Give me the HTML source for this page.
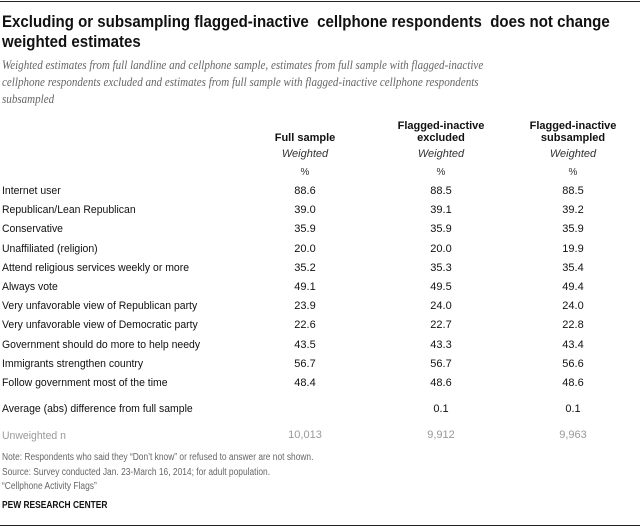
<!DOCTYPE html>
<html><head><meta charset="utf-8">
<style>
body{margin:0;background:#fff;}
#c{position:relative;width:640px;height:528px;overflow:hidden;font-family:"Liberation Sans",sans-serif;color:#111;}
.a{position:absolute;white-space:nowrap;}
.ctr{transform:translateX(-50%);text-align:center;}
.t{font-weight:bold;font-size:17px;transform:scaleX(0.885);transform-origin:left top;}
.st{font-family:"Liberation Serif",serif;font-style:italic;font-size:13px;color:#666;transform:scaleX(0.85);transform-origin:left top;}
.lab{font-size:11px;transform:scaleX(0.95);transform-origin:left top;}
.num{font-size:11px;}
.hd{font-weight:bold;font-size:11px;text-align:center;line-height:12px;}
.note{font-size:10px;color:#666;transform:scaleX(0.84);transform-origin:left top;}
</style></head><body>
<div id="c">
<div class="a" style="left:0;top:1px;width:640px;height:1px;background:#222"></div>
<div class="a t" style="left:2px;top:12px">Excluding or subsampling flagged-inactive&nbsp; cellphone respondents&nbsp; does not change</div>
<div class="a t" style="left:2px;top:32px">weighted estimates</div>
<div class="a st" style="left:2px;top:57px">Weighted estimates from full landline and cellphone sample, estimates from full sample with flagged-inactive</div>
<div class="a st" style="left:2px;top:74px">cellphone respondents excluded and estimates from full sample with flagged-inactive cellphone respondents</div>
<div class="a st" style="left:2px;top:91px">subsampled</div>
<div id="tbl"></div>
<div class="a note" style="left:2px;top:452px">Note: Respondents who said they “Don’t know” or refused to answer are not shown.</div>
<div class="a note" style="left:2px;top:467px">Source: Survey conducted Jan. 23-March 16, 2014; for adult population.</div>
<div class="a note" style="left:2px;top:481px">“Cellphone Activity Flags”</div>
<div class="a note" style="left:2px;top:500px;color:#111;font-weight:bold">PEW RESEARCH CENTER</div>
<div class="a" style="left:0;top:525px;width:640px;height:1px;background:#222"></div>
</div>
<script>
const headers=[["Full sample"],["Flagged-inactive","excluded"],["Flagged-inactive","subsampled"]];
const rowLabels=["Internet user","Republican/Lean Republican","Conservative","Unaffiliated (religion)","Attend religious services weekly or more","Always vote","Very unfavorable view of Republican party","Very unfavorable view of Democratic party","Government should do more to help needy","Immigrants strengthen country","Follow government most of the time"];
const fullSample=["88.6","39.0","35.9","20.0","35.2","49.1","23.9","22.6","43.5","56.7","48.4"];
const excluded=["88.5","39.1","35.9","20.0","35.3","49.5","24.0","22.7","43.3","56.7","48.6"];
const subsampled=["88.5","39.2","35.9","19.9","35.4","49.4","24.0","22.8","43.4","56.6","48.6"];
const avgDiff=["","0.1","0.1"];
const unweightedN=["10,013","9,912","9,963"];
const cols=[305,441,573];
const t=document.getElementById('tbl');
function add(cls,txt,x,y,style){const d=document.createElement('div');d.className='a '+cls;d.textContent=txt;d.style.left=x+'px';d.style.top=y+'px';if(style)d.style.cssText+=style;t.appendChild(d);return d;}
headers.forEach((h,i)=>{
  const d=add('hd ctr',"",cols[i],h.length==1?132:120);
  d.innerHTML=h.join('<br>');
  
  
  const w=add('num ctr','Weighted',cols[i],148,'font-style:italic;color:#333');
  
  
  const p=add('num ctr','%',cols[i],167,'font-size:10px;color:#333');
  
  
});
const series=[fullSample,excluded,subsampled];
rowLabels.forEach((l,r)=>{
  const y=185+r*19.2;
  const d=add('lab',l,2,y);
  
  
  series.forEach((s,i)=>{
    const c=add('num ctr',s[r],cols[i],y);
    
    
  });
});
const al=add('lab','Average (abs) difference from full sample',2,403);


avgDiff.forEach((v,i)=>{const c=add('num ctr',v,cols[i],403);
  
  });
const ul=add('lab','Unweighted n',2,430,'color:#999');


unweightedN.forEach((v,i)=>{const c=add('num ctr',v,cols[i],429,'color:#999');
  
  });
</script>
</body></html>
